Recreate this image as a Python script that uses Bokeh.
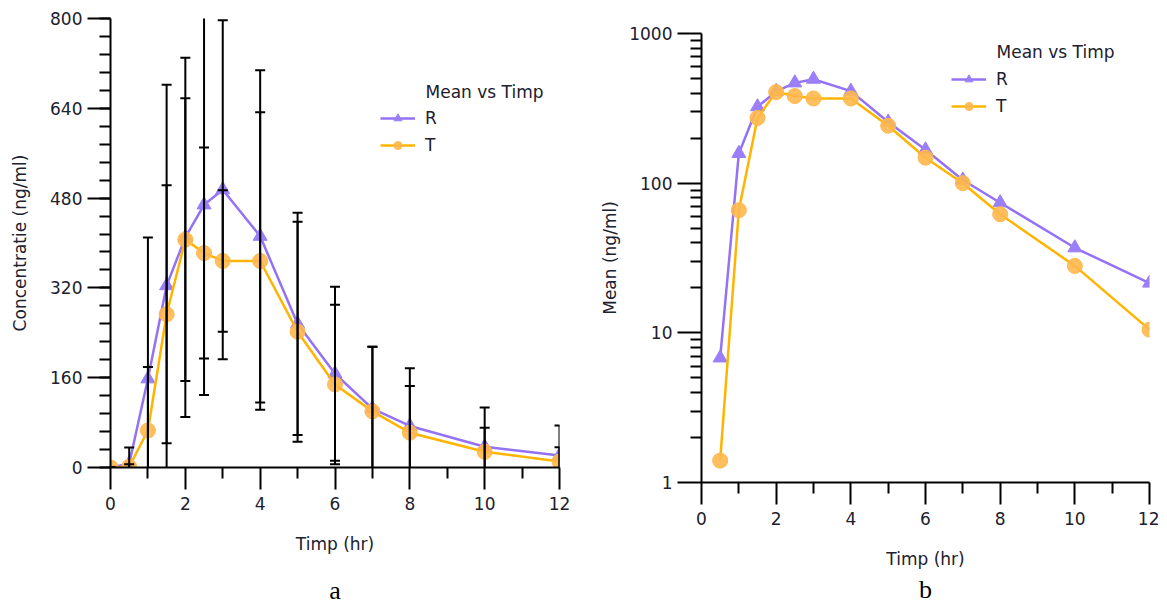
from bokeh.plotting import figure
from bokeh.models import (Range1d, FixedTicker, NumeralTickFormatter, Legend, LegendItem,
                          Label, ColumnDataSource, Title, Spacer)
from bokeh.layouts import row, column
from bokeh.embed import file_html
from bokeh.resources import INLINE

# ---- data ----
time_hr = [0, 0.5, 1, 1.5, 2, 2.5, 3, 4, 5, 6, 7, 8, 10, 12]
r_mean = [0, 6.8, 158, 324, 410, 468, 495, 412, 256, 167, 105, 74, 37, 21.5]
t_mean = [0, 1.4, 66, 273, 406, 382, 368, 368, 242, 148, 100, 62, 28, 10.5]
r_sd = [0, 29, 252, 358, 320, 339, 302, 296, 198, 155, 110, 103, 70, 53.5]
t_sd = [0, 4.6, 113, 230, 252, 188, 126, 265, 196, 142, 115, 83, 43, 25.5]

x_major = [0, 2, 4, 6, 8, 10, 12]
x_minor = [1, 3, 5, 7, 9, 11]
y_lin_major = [0, 160, 320, 480, 640, 800]
y_lin_minor = [32 * k for k in range(26)]
y_log_major = [1, 10, 100, 1000]
y_log_minor = [m * d for d in (1, 10, 100) for m in range(2, 10)]

PURPLE = "#9372f5"
PURPLE_M = "#9a7ff8"
ORANGE = "#ffb400"
ORANGE_M = "#ffb84d"
TXT = "#20202e"
FONT = "DejaVu Sans"


def style(p, ytick_out, lbl_standoff_y, lbl_standoff_x):
    p.outline_line_color = None
    p.xgrid.visible = False
    p.ygrid.visible = False
    p.background_fill_color = "white"
    p.border_fill_color = "white"
    for ax in (p.xaxis[0], p.yaxis[0]):
        ax.axis_line_width = 2
        ax.axis_line_color = "black"
        ax.major_tick_line_width = 2
        ax.minor_tick_line_width = 2
        ax.major_tick_line_color = "black"
        ax.minor_tick_line_color = "black"
        ax.major_tick_in = 0
        ax.minor_tick_in = 0
        ax.minor_tick_out = 11
        ax.major_label_text_font = FONT
        ax.major_label_text_font_size = "17px"
        ax.major_label_text_color = TXT
        ax.axis_label_text_font = FONT
        ax.axis_label_text_font_size = "17px"
        ax.axis_label_text_font_style = "normal"
        ax.axis_label_text_color = TXT
    p.xaxis[0].major_tick_out = 22
    p.yaxis[0].major_tick_out = ytick_out
    p.xaxis[0].major_label_standoff = 7
    p.yaxis[0].major_label_standoff = 5
    p.yaxis[0].axis_label_standoff = lbl_standoff_y
    p.xaxis[0].axis_label_standoff = lbl_standoff_x
    p.xaxis[0].ticker = FixedTicker(ticks=x_major, minor_ticks=x_minor)


def series(p, x, r, t):
    rl = p.line(x, r, line_color=PURPLE, line_width=2.5)
    rm = p.scatter(x, r, marker="triangle", size=14, fill_color=PURPLE_M, line_color=PURPLE_M)
    tl = p.line(x, t, line_color=ORANGE, line_width=2.5)
    tm = p.scatter(x, t, marker="circle", size=15, fill_color=ORANGE_M, fill_alpha=0.9,
                   line_color=ORANGE_M)
    return [rl, rm], [tl, tm]


def legend(p, r_rend, t_rend, loc):
    lg = Legend(items=[LegendItem(label="R", renderers=r_rend),
                       LegendItem(label="T", renderers=t_rend)],
                location=loc, glyph_width=35, glyph_height=20, label_height=20,
                spacing=7, padding=0, margin=0, label_standoff=10,
                border_line_color=None, background_fill_alpha=0,
                label_text_font=FONT, label_text_font_size="17px", label_text_color=TXT)
    p.add_layout(lg)


CAP_KW = dict(align="center", text_font="Liberation Serif", text_font_size="26px",
              text_font_style="normal", text_color="black")


# ---- panel a ----
pa = figure(frame_width=449, frame_height=449, x_range=Range1d(0, 12), y_range=Range1d(0, 800),
            output_backend="svg", toolbar_location=None, title=None,
            min_border_left=110, min_border_right=21, min_border_top=18, min_border_bottom=133,
            x_axis_label="Timp (hr)", y_axis_label="Concentratie (ng/ml)")
style(pa, 23, 17, 21)
pa.yaxis[0].ticker = FixedTicker(ticks=y_lin_major, minor_ticks=y_lin_minor)

ra, ta = series(pa, time_hr, r_mean, t_mean)

for mean, sd in ((r_mean, r_sd), (t_mean, t_sd)):
    up = [m + s for m, s in zip(mean, sd)]
    lo = [m - s for m, s in zip(mean, sd)]
    src = ColumnDataSource(dict(x=time_hr, up=up, lo=lo))
    pa.segment(x0="x", y0="lo", x1="x", y1="up", source=src, line_color="black", line_width=2)
    pa.scatter("x", "up", marker="dash", size=10, line_width=2, line_color="black", source=src)
    pa.scatter("x", "lo", marker="dash", size=10, line_width=2, line_color="black", source=src)

legend(pa, ra, ta, (270, 312))
pa.add_layout(Label(x=315, y=376, x_units="screen", y_units="screen", text="Mean vs Timp",
                    text_font=FONT, text_font_size="17px", text_color=TXT,
                    text_baseline="middle"))
try:
    cap_a = Title(text="a", padding=dict(left=0, right=0, top=12, bottom=0), **CAP_KW)
except Exception:
    cap_a = Title(text="a", **CAP_KW)
pa.add_layout(cap_a, "below")

# ---- panel b ----
pb = figure(frame_width=448, frame_height=449, x_range=Range1d(0, 12), y_range=Range1d(1, 1000),
            y_axis_type="log", output_backend="svg", toolbar_location=None, title=None,
            min_border_left=121, min_border_right=10, min_border_top=18, min_border_bottom=117,
            x_axis_label="Timp (hr)", y_axis_label="Mean (ng/ml)")
style(pb, 24, 6, 21)
pb.yaxis[0].ticker = FixedTicker(ticks=y_log_major, minor_ticks=y_log_minor)
pb.yaxis[0].formatter = NumeralTickFormatter(format="0")

rb, tb = series(pb, time_hr[1:], r_mean[1:], t_mean[1:])
legend(pb, rb, tb, (250, 366))
pb.add_layout(Label(x=295, y=431, x_units="screen", y_units="screen", text="Mean vs Timp",
                    text_font=FONT, text_font_size="17px", text_color=TXT,
                    text_baseline="middle"))
pb.add_layout(Title(text="b", standoff=2, **CAP_KW), "below")

layout = row(pa, column(Spacer(width=579, height=15), pb))
open("out.html", "w").write(file_html(layout, INLINE))
